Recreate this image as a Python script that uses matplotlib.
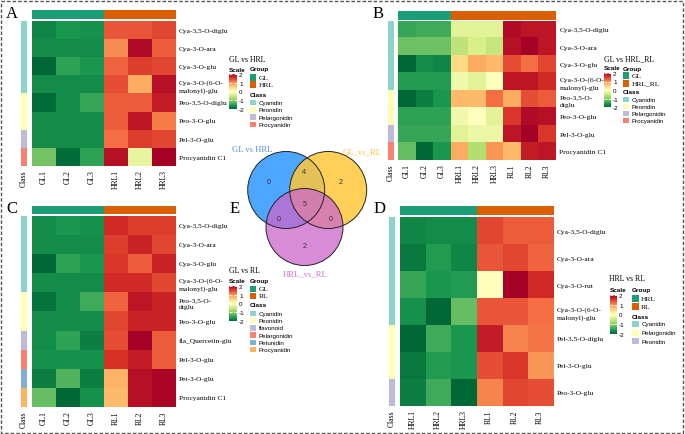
import matplotlib
matplotlib.use('Agg')
import matplotlib.pyplot as plt
import numpy as np
from matplotlib.colors import ListedColormap, Normalize
from matplotlib.patches import Rectangle, Circle
import matplotlib.cm as mcm

plt.rcParams['axes.unicode_minus'] = False

# ---------------- data ----------------
A_rows = ["Cya-3,5-O-diglu", "Cya-3-O-ara", "Cya-3-O-glu", "Cya-3-O-(6-O-\nmalonyl)-glu",
          "Peo-3,5-O-diglu", "Peo-3-O-glu", "Pel-3-O-glu", "Procyanidin C1"]
A_cols = ["GL1", "GL2", "GL3", "HRL1", "HRL2", "HRL3"]
A_groups = ["GL", "GL", "GL", "HRL", "HRL", "HRL"]
A_group_names = ["GL", "HRL"]
A_classes = ["Cyanidin", "Cyanidin", "Cyanidin", "Cyanidin", "Peonidin", "Peonidin",
             "Pelargonidin", "Procyanidin"]
A_class_names = ["Cyanidin", "Peonidin", "Pelargonidin", "Procyanidin"]
A_vals = [
    [-1.75, -1.60, -1.65, 1.35, 1.35, 1.45],
    [-1.70, -1.70, -1.70, 1.00, 1.90, 1.30],
    [-2.00, -1.50, -1.60, 1.25, 1.50, 1.45],
    [-1.70, -1.70, -1.70, 1.40, 0.80, 1.85],
    [-1.95, -1.70, -1.45, 1.30, 1.30, 1.75],
    [-1.70, -1.70, -1.70, 1.30, 1.80, 1.10],
    [-1.70, -1.70, -1.70, 1.20, 1.50, 1.45],
    [-1.10, -1.95, -1.50, 1.85, -0.25, 2.00],
]

B_rows = ["Cya-3,5-O-diglu", "Cya-3-O-ara", "Cya-3-O-glu", "Cya-3-O-(6-O-\nmalonyl)-glu",
          "Peo-3,5-O-\ndiglu", "Peo-3-O-glu", "Pel-3-O-glu", "Procyanidin C1"]
B_cols = ["GL1", "GL2", "GL3", "HRL1", "HRL2", "HRL3", "RL1", "RL2", "RL3"]
B_groups = ["GL", "GL", "GL", "HRL_RL", "HRL_RL", "HRL_RL", "HRL_RL", "HRL_RL", "HRL_RL"]
B_group_names = ["GL", "HRL_RL"]
B_classes = ["Cyanidin", "Cyanidin", "Cyanidin", "Cyanidin", "Peonidin", "Peonidin",
             "Pelargonidin", "Procyanidin"]
B_class_names = ["Cyanidin", "Peonidin", "Pelargonidin", "Procyanidin"]
B_vals = [
    [-1.45, -1.40, -1.40, -0.30, -0.30, -0.30, 1.90, 1.80, 1.80],
    [-1.15, -1.15, -1.15, -0.60, -0.40, -0.55, 1.85, 2.00, 1.80],
    [-2.00, -1.70, -1.75, 0.45, 0.80, 0.70, 1.40, 1.20, 1.45],
    [-1.55, -1.55, -1.55, -0.15, -0.30, 0.00, 1.80, 1.80, 1.65],
    [-2.00, -1.80, -1.60, 0.70, 0.70, 1.20, 0.80, 1.40, 1.30],
    [-1.50, -1.50, -1.50, -0.15, 0.00, -0.30, 1.55, 1.90, 1.85],
    [-1.45, -1.45, -1.45, -0.30, -0.20, -0.20, 1.80, 2.00, 1.55],
    [-1.20, -2.00, -1.60, 0.80, -0.70, 0.95, 0.70, 1.75, 1.80],
]

C_rows = ["Cya-3,5-O-diglu", "Cya-3-O-ara", "Cya-3-O-glu", "Cya-3-O-(6-O-\nmalonyl)-glu",
          "Peo-3,5-O-\ndiglu", "Peo-3-O-glu", "fla_Quercetin-glu", "Pel-3-O-glu",
          "Pet-3-O-glu", "Procyanidin C1"]
C_cols = ["GL1", "GL2", "GL3", "RL1", "RL2", "RL3"]
C_groups = ["GL", "GL", "GL", "RL", "RL", "RL"]
C_group_names = ["GL", "RL"]
C_classes = ["Cyanidin", "Cyanidin", "Cyanidin", "Cyanidin", "Peonidin", "Peonidin",
             "flavonoid", "Pelargonidin", "Petunidin", "Procyanidin"]
C_class_names = ["Cyanidin", "Peonidin", "flavonoid", "Pelargonidin", "Petunidin", "Procyanidin"]
C_vals = [
    [-1.70, -1.60, -1.65, 1.65, 1.50, 1.50],
    [-1.70, -1.70, -1.70, 1.50, 1.70, 1.45],
    [-2.00, -1.50, -1.60, 1.55, 1.30, 1.70],
    [-1.70, -1.70, -1.70, 1.65, 1.65, 1.45],
    [-1.90, -1.70, -1.40, 1.25, 1.80, 1.70],
    [-1.70, -1.70, -1.70, 1.45, 1.70, 1.70],
    [-1.70, -1.50, -1.80, 1.40, 2.00, 1.30],
    [-1.65, -1.65, -1.65, 1.60, 1.75, 1.30],
    [-1.80, -1.30, -1.80, 0.75, 1.85, 1.95],
    [-1.20, -2.00, -1.65, 0.70, 1.85, 1.95],
]

D_rows = ["Cya-3,5-O-diglu", "Cya-3-O-ara", "Cya-3-O-rut", "Cya-3-O-(6-O-\nmalonyl)-glu",
          "Pel-3,5-O-diglu", "Pel-3-O-glu", "Peo-3-O-glu"]
D_cols = ["HRL1", "HRL2", "HRL3", "RL1", "RL2", "RL3"]
D_groups = ["HRL", "HRL", "HRL", "RL", "RL", "RL"]
D_group_names = ["HRL", "RL"]
D_classes = ["Cyanidin", "Cyanidin", "Cyanidin", "Cyanidin", "Pelargonidin", "Pelargonidin",
             "Peonidin"]
D_class_names = ["Cyanidin", "Pelargonidin", "Peonidin"]
D_vals = [
    [-1.75, -1.70, -1.70, 1.45, 1.30, 1.30],
    [-1.85, -1.55, -1.75, 1.35, 1.45, 1.25],
    [-1.45, -1.60, -1.55, 0.00, 2.00, 1.65],
    [-1.65, -2.00, -1.20, 1.35, 1.35, 1.20],
    [-2.00, -1.40, -1.60, 1.75, 1.05, 1.15],
    [-1.85, -1.55, -1.60, 1.40, 1.55, 0.95],
    [-1.80, -1.40, -2.00, 1.05, 1.45, 1.40],
]

venn_names = ["GL vs HRL", "GL_vs_RL", "HRL_vs_RL"]
# regions: only1, 1&2, only2, all, 1&3, 2&3, only3
venn_counts = [0, 4, 2, 5, 0, 0, 2]

# ---------------- style ----------------
W, H = 685, 435
fig = plt.figure(figsize=(6.85, 4.35), dpi=100)
SERIF = 'Liberation Serif'
SANS = 'Liberation Sans'
GROUP_COLORS = ["#1B9E77", "#D95F02"]
SET3 = ["#8DD3C7", "#FFFFB3", "#BEBADA", "#FB8072", "#80B1D3", "#FDB462"]
cmap = plt.get_cmap('RdYlGn_r')
norm = Normalize(-2, 2)


def pax(x0, y0, x1, y1):
    return fig.add_axes([x0 / W, 1 - y1 / H, (x1 - x0) / W, (y1 - y0) / H])


ov = fig.add_axes([0, 0, 1, 1], zorder=10)
ov.set_xlim(0, W)
ov.set_ylim(H, 0)
ov.axis('off')


def heat_panel(vals, rows, cols, groups, gnames, classes, cnames, title, L):
    x0, y0, x1, y1 = L['cells']
    ax = pax(x0, y0, x1, y1)
    ax.imshow(np.array(vals), cmap=cmap, norm=norm, aspect='auto', interpolation='nearest')
    ax.set_yticks(range(len(rows)))
    ax.set_yticklabels(rows, fontsize=5.4, family=SERIF, linespacing=1.5)
    ax.yaxis.tick_right()
    ax.set_xticks(range(len(cols)))
    ax.set_xticklabels(cols, rotation=90, fontsize=5.5, family=SERIF)
    ax.tick_params(length=0, pad=2.5)
    for s in ax.spines.values():
        s.set_visible(False)

    # group bar
    gy0, gy1 = L['gbar']
    gax = pax(x0, gy0, x1, gy1)
    gidx = [gnames.index(g) for g in groups]
    gax.imshow([gidx], cmap=ListedColormap(GROUP_COLORS[:len(gnames)]),
               vmin=-0.5, vmax=len(gnames) - 0.5, aspect='auto', interpolation='nearest')
    gax.axis('off')

    # class bar
    cx0, cx1 = L['cbarx']
    cax = pax(cx0, y0, cx1, y1)
    cidx = [[cnames.index(c)] for c in classes]
    cax.imshow(cidx, cmap=ListedColormap(SET3[:len(cnames)]),
               vmin=-0.5, vmax=len(cnames) - 0.5, aspect='auto', interpolation='nearest')
    cax.set_yticks([])
    cax.set_xticks([0])
    cax.set_xticklabels(["Class"], rotation=90, fontsize=5.5, family=SERIF)
    cax.tick_params(length=0, pad=2.5)
    for s in cax.spines.values():
        s.set_visible(False)

    # legend
    tx, ty = L['title']
    ov.text(tx, ty, title, fontsize=5.6, family=SERIF, va='center', ha='left')
    sx, gx, hy = L['heads']
    ov.text(sx, hy, "Scale", fontsize=4.6, family=SANS, weight='bold', va='center')
    ov.text(gx, hy, "Group", fontsize=4.6, family=SANS, weight='bold', va='center')
    bx0, by0, bx1, by1 = L['cbar']
    cb_ax = pax(bx0, by0, bx1, by1)
    cb = fig.colorbar(mcm.ScalarMappable(norm=norm, cmap=cmap), cax=cb_ax, ticks=[-2, -1, 0, 1, 2])
    cb.outline.set_visible(False)
    cb_ax.tick_params(axis='y', direction='in', length=2, width=0.6, color='white',
                      labelsize=4.5, pad=1.5, left=True, right=True)
    for t in cb_ax.get_yticklabels():
        t.set_family(SANS)
    sq = L['sq']
    gys, gstep = L['gitems']
    for i, g in enumerate(gnames):
        yc = gys + i * gstep
        ov.add_patch(Rectangle((gx, yc - sq / 2), sq, sq, facecolor=GROUP_COLORS[i], edgecolor='none'))
        ov.text(gx + sq + 2.5, yc, g, fontsize=5.4, family=SERIF, va='center')
    chy = L['chead']
    ov.text(gx, chy, "Class", fontsize=4.6, family=SANS, weight='bold', va='center')
    cys, cstep = L['citems']
    for i, c in enumerate(cnames):
        yc = cys + i * cstep
        ov.add_patch(Rectangle((gx, yc - sq * 0.42), sq, sq * 0.84, facecolor=SET3[i], edgecolor='none'))
        ov.text(gx + sq + 2.5, yc, c, fontsize=4.5, family=SANS, va='center')


LA = dict(cells=(32.3, 21.7, 175.7, 166.7), gbar=(11, 20), cbarx=(20.7, 26.7),
          title=(229, 60), heads=(229, 250, 70), cbar=(229, 75, 237, 110), sq=6.5,
          gitems=(78.3, 7.3), chead=95.8, citems=(103.7, 7.2))
LB = dict(cells=(398.3, 21.7, 556, 161), gbar=(12.3, 20.7), cbarx=(388, 393.5),
          title=(604, 59), heads=(604, 623, 69), cbar=(604, 74, 611, 108), sq=6.5,
          gitems=(76.7, 7.6), chead=93, citems=(100.7, 7.0))
LC = dict(cells=(32.3, 216.7, 175.7, 407.7), gbar=(206.5, 215), cbarx=(21, 27),
          title=(229.3, 271), heads=(229.3, 250, 281.7), cbar=(229, 286.7, 237, 322.3), sq=6.5,
          gitems=(290, 6.9), chead=306, citems=(314.3, 7.25))
LD = dict(cells=(400, 218.3, 553, 406.7), gbar=(207.3, 216), cbarx=(389, 394.5),
          title=(609.3, 279.3), heads=(610, 631.7, 291), cbar=(610, 296, 617, 335), sq=7,
          gitems=(299.3, 8.4), chead=317.7, citems=(325, 8.65))

heat_panel(A_vals, A_rows, A_cols, A_groups, A_group_names, A_classes, A_class_names, "GL vs HRL", LA)
heat_panel(B_vals, B_rows, B_cols, B_groups, B_group_names, B_classes, B_class_names, "GL vs HRL_RL", LB)
heat_panel(C_vals, C_rows, C_cols, C_groups, C_group_names, C_classes, C_class_names, "GL vs RL", LC)
heat_panel(D_vals, D_rows, D_cols, D_groups, D_group_names, D_classes, D_class_names, "HRL vs RL", LD)

# ---------------- Venn ----------------
R = 38.5
centers = [(286.2, 191), (328.2, 191), (304.5, 228)]
fills = [("#4DA6FF", 1.0), ("#FFC73A", 0.85), ("#CC66CC", 0.75)]
for (cx, cy), (fc, a) in zip(centers, fills):
    ov.add_patch(Circle((cx, cy), R, facecolor=fc, alpha=a, edgecolor='none'))
for (cx, cy) in centers:
    ov.add_patch(Circle((cx, cy), R, facecolor='none', edgecolor='#222222', lw=0.7))
region_pos = [(268.3, 183), (304.3, 173), (340.7, 183), (304.3, 204.5),
              (278.3, 220), (331, 220), (304.3, 246.7)]
for (px, py), n in zip(region_pos, venn_counts):
    ov.text(px, py, str(n), fontsize=5.2, family=SANS, color='#333333', ha='center', va='center')
label_pos = [(251.7, 150), (362.3, 152), (305, 274)]
label_cols = ["#5B8FD8", "#FFC13A", "#D870D8"]
for (px, py), nm, c in zip(label_pos, venn_names, label_cols):
    ov.text(px, py, nm, fontsize=6.2, family=SERIF, color=c, ha='center', va='center')

# ---------------- panel letters & border ----------------
for lt, (px, py) in zip("ABCDE", [(12, 14), (378, 14), (12, 209), (380, 209), (235, 209)]):
    ov.text(px, py, lt, fontsize=12, family=SERIF, ha='center', va='center')
ov.add_patch(Rectangle((1.5, 1.5), W - 3, H - 3, fill=False, edgecolor='#555555',
                       lw=1.0, ls=(0, (2.5, 1.5))))

fig.savefig('out.png', dpi=100)
